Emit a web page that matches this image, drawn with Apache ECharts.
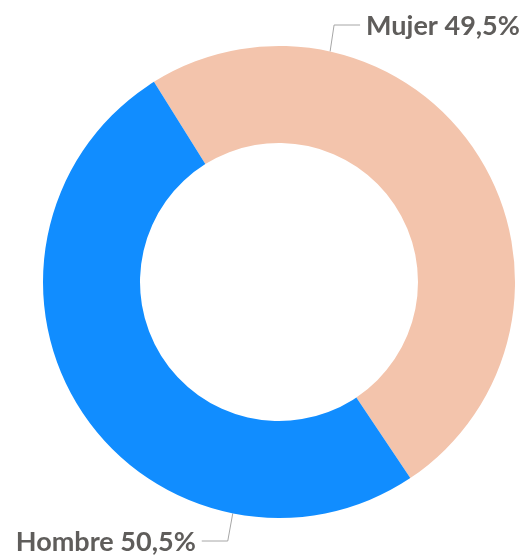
<!DOCTYPE html>
<html>
<head>
<meta charset="utf-8">
<script src="https://cdn.jsdelivr.net/npm/echarts@6/dist/echarts.min.js"></script>
<style>
  html, body { margin: 0; padding: 0; background: #fff; }
  #chart { width: 528px; height: 557px; }
</style>
</head>
<body>
<div id="chart"></div>
<script>
// datos
var categories = ['Mujer', 'Hombre']
var values = [49.5, 50.5]
var colors = ['#F3C4AC', '#118DFF']

var center = [279, 282]
var radius = [139, 236]

// donde sale la linea de la etiqueta (grados) y a que altura queda la etiqueta
var labelAnchors = [
  { angle: 77.5, elbowDx: 4, y: 25, side: 1 },
  { angle: -101.3, elbowDx: -5, y: 541, side: -1 },
]

function edgePoint(angle) {
  var a = (angle * Math.PI) / 180
  return [center[0] + radius[1] * Math.cos(a), center[1] - radius[1] * Math.sin(a)]
}

var chart = echarts.init(document.getElementById('chart'))
chart.setOption({
  animation: false,
  series: [
    {
      type: 'pie',
      center: center,
      radius: radius,
      startAngle: 122,
      clockwise: true,
      avoidLabelOverlap: false,
      data: categories.map(function (c, i) {
        return { name: c, value: values[i], itemStyle: { color: colors[i] } }
      }),
      emphasis: { disabled: true },
      label: {
        show: true,
        position: 'outside',
        overflow: 'none',
        formatter: function (p) {
          return p.name + ' ' + p.value.toFixed(1).replace('.', ',') + '%'
        },
        color: '#5F5D5B',
        fontFamily: 'Lato',
        fontWeight: 'bold',
        fontSize: 27,
      },
      labelLine: {
        show: true,
        lineStyle: { color: '#A6A6A6', width: 1 },
      },
      labelLayout: function (params) {
        var cfg = labelAnchors[params.dataIndex]
        var p0 = edgePoint(cfg.angle)
        var p1 = [p0[0] + cfg.elbowDx, cfg.y]
        var p2 = [p1[0] + cfg.side * 26, cfg.y]
        return {
          x: p2[0] + cfg.side * 6,
          y: cfg.y + 1,
          align: cfg.side > 0 ? 'left' : 'right',
          verticalAlign: 'middle',
          labelLinePoints: [p0, p1, p2],
        }
      },
    },
  ],
})
</script>
</body>
</html>
